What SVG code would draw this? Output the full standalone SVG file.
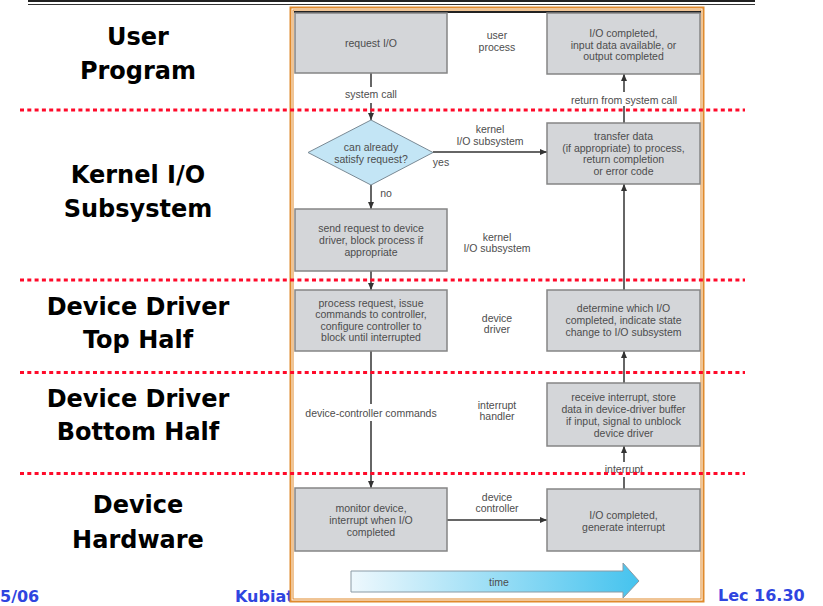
<svg xmlns="http://www.w3.org/2000/svg" width="823" height="606" viewBox="0 0 823 606">
<defs>
<style>
.lbl{font-family:"DejaVu Sans",sans-serif;font-weight:bold;font-size:24px;fill:#000;text-anchor:middle}
.ft{font-family:"DejaVu Sans",sans-serif;font-weight:bold;font-size:16px;fill:#2f45e0}
.t{font-family:"Liberation Sans",Arial,sans-serif;font-size:10.5px;fill:#4d4d4d;text-anchor:middle}
.box{fill:#d4d6d9;stroke:#858585;stroke-width:1.5}
.ln{stroke:#333;stroke-width:1.5;fill:none}
.red{stroke:#ff0a2a;stroke-width:3;stroke-dasharray:4 3.3;fill:none}
</style>
<marker id="ah" markerWidth="8" markerHeight="8" refX="7" refY="4" orient="auto" markerUnits="userSpaceOnUse">
<path d="M0,1 L7,4 L0,7 Z" fill="#333"/>
</marker>
<linearGradient id="tg" x1="0" y1="0" x2="1" y2="0">
<stop offset="0" stop-color="#eef8fd"/>
<stop offset="1" stop-color="#45c3ee"/>
</linearGradient>
</defs>

<!-- top rule -->
<line x1="28" y1="1" x2="755" y2="1" stroke="#222" stroke-width="2"/>
<line x1="28" y1="4.5" x2="755" y2="4.5" stroke="#333" stroke-width="1"/>

<!-- footer -->
<text class="ft" x="0" y="602">5/06</text>
<text class="ft" x="235" y="602">Kubiato</text>
<text class="ft" x="718" y="601">Lec 16.30</text>

<!-- image frame -->
<rect x="290.5" y="7.5" width="413" height="594" fill="#fff" stroke="#e08a2c" stroke-width="2"/>
<rect x="293" y="10" width="408" height="589" fill="none" stroke="#e08a2c" stroke-width="1"/>
<line x1="294" y1="12" x2="701" y2="12" stroke="#222" stroke-width="2"/>

<!-- left layer labels -->
<g id="layer-labels">
<text class="lbl" x="138" y="45">User</text>
<text class="lbl" x="138" y="79">Program</text>
<text class="lbl" x="138" y="183">Kernel I/O</text>
<text class="lbl" x="138" y="217">Subsystem</text>
<text class="lbl" x="138" y="315">Device Driver</text>
<text class="lbl" x="138" y="348">Top Half</text>
<text class="lbl" x="138" y="407">Device Driver</text>
<text class="lbl" x="138" y="440">Bottom Half</text>
<text class="lbl" x="138" y="513">Device</text>
<text class="lbl" x="138" y="548">Hardware</text>
</g>

<!-- connectors -->
<g id="connectors">
<line class="ln" x1="371" y1="73" x2="371" y2="87"/>
<line class="ln" x1="371" y1="103" x2="371" y2="120" marker-end="url(#ah)"/>
<line class="ln" x1="433" y1="152" x2="547" y2="152" marker-end="url(#ah)"/>
<line class="ln" x1="371" y1="185" x2="371" y2="209" marker-end="url(#ah)"/>
<line class="ln" x1="371" y1="271" x2="371" y2="290" marker-end="url(#ah)"/>
<line class="ln" x1="371" y1="351" x2="371" y2="404"/>
<line class="ln" x1="371" y1="421" x2="371" y2="488" marker-end="url(#ah)"/>
<line class="ln" x1="447" y1="520" x2="547" y2="520" marker-end="url(#ah)"/>
<line class="ln" x1="624" y1="489" x2="624" y2="477"/>
<line class="ln" x1="624" y1="462" x2="624" y2="446" marker-end="url(#ah)"/>
<line class="ln" x1="624" y1="383" x2="624" y2="351" marker-end="url(#ah)"/>
<line class="ln" x1="624" y1="290" x2="624" y2="184" marker-end="url(#ah)"/>
<line class="ln" x1="624" y1="123" x2="624" y2="106"/>
<line class="ln" x1="624" y1="92" x2="624" y2="74" marker-end="url(#ah)"/>
<text class="t" x="371" y="97.5">system call</text>
<text class="t" x="624" y="103.5">return from system call</text>
<text class="t" x="441" y="165.5">yes</text>
<text class="t" x="490" y="132.5">kernel</text>
<text class="t" x="490" y="144.5">I/O subsystem</text>
<text class="t" x="386" y="196.5">no</text>
<text class="t" x="371" y="416.5">device-controller commands</text>
<text class="t" x="624" y="472.5">interrupt</text>
<text class="t" x="497" y="500.5">device</text>
<text class="t" x="497" y="511.5">controller</text>
</g>

<!-- side annotations -->
<g id="annotations">
<text class="t" x="497" y="39">user</text>
<text class="t" x="497" y="51">process</text>
<text class="t" x="497" y="240.5">kernel</text>
<text class="t" x="497" y="251.5">I/O subsystem</text>
<text class="t" x="497" y="321.5">device</text>
<text class="t" x="497" y="332.5">driver</text>
<text class="t" x="497" y="408.5">interrupt</text>
<text class="t" x="497" y="419.5">handler</text>
</g>

<g id="request-io">
<rect class="box" x="295" y="13" width="152" height="60"/>
<text class="t" x="371" y="47">request I/O</text>
</g>

<g id="io-completed-user">
<rect class="box" x="547" y="13" width="153" height="61"/>
<text class="t" x="623.5" y="37">I/O completed,</text>
<text class="t" x="623.5" y="48.5">input data available, or</text>
<text class="t" x="623.5" y="60">output completed</text>
</g>

<g id="can-satisfy">
<polygon points="371,120 433,152.5 371,185 308,152.5" fill="#c3e5f5" stroke="#7a8a95" stroke-width="1"/>
<text class="t" x="371" y="150.5">can already</text>
<text class="t" x="371" y="162.5">satisfy request?</text>
</g>

<g id="transfer-data">
<rect class="box" x="547" y="123" width="153" height="61"/>
<text class="t" x="623.5" y="139.5">transfer data</text>
<text class="t" x="623.5" y="151.5">(if appropriate) to process,</text>
<text class="t" x="623.5" y="163">return completion</text>
<text class="t" x="623.5" y="174.5">or error code</text>
</g>

<g id="send-request">
<rect class="box" x="295" y="209" width="152" height="62"/>
<text class="t" x="371" y="231.5">send request to device</text>
<text class="t" x="371" y="243.5">driver, block process if</text>
<text class="t" x="371" y="255.5">appropriate</text>
</g>

<g id="process-request">
<rect class="box" x="295" y="290" width="152" height="61"/>
<text class="t" x="371" y="306.5">process request, issue</text>
<text class="t" x="371" y="318">commands to controller,</text>
<text class="t" x="371" y="329.5">configure controller to</text>
<text class="t" x="371" y="341">block until interrupted</text>
</g>

<g id="determine-io">
<rect class="box" x="547" y="290" width="153" height="61"/>
<text class="t" x="623.5" y="311.5">determine which I/O</text>
<text class="t" x="623.5" y="323.5">completed, indicate state</text>
<text class="t" x="623.5" y="335.5">change to I/O subsystem</text>
</g>

<g id="receive-interrupt">
<rect class="box" x="547" y="383" width="153" height="63"/>
<text class="t" x="623.5" y="400.5">receive interrupt, store</text>
<text class="t" x="623.5" y="412.5">data in device-driver buffer</text>
<text class="t" x="623.5" y="424.5">if input, signal to unblock</text>
<text class="t" x="623.5" y="436.5">device driver</text>
</g>

<g id="monitor-device">
<rect class="box" x="295" y="488" width="152" height="63"/>
<text class="t" x="371" y="511.5">monitor device,</text>
<text class="t" x="371" y="523.5">interrupt when I/O</text>
<text class="t" x="371" y="535.5">completed</text>
</g>

<g id="io-completed-hw">
<rect class="box" x="547" y="489" width="153" height="62"/>
<text class="t" x="623.5" y="518.5">I/O completed,</text>
<text class="t" x="623.5" y="530.5">generate interrupt</text>
</g>

<g id="time-arrow">
<polygon points="351,571 623,571 623,563 639,581 623,598 623,592 351,592" fill="url(#tg)" stroke="#8a9aa5" stroke-width="1"/>
<text class="t" x="499" y="586">time</text>
</g>

<!-- red dotted layer separators -->
<g id="separators">
<line class="red" x1="20" y1="110" x2="745" y2="110"/>
<line class="red" x1="20" y1="280" x2="745" y2="280"/>
<line class="red" x1="20" y1="372.5" x2="745" y2="372.5"/>
<line class="red" x1="20" y1="473.5" x2="745" y2="473.5"/>
</g>
</svg>
